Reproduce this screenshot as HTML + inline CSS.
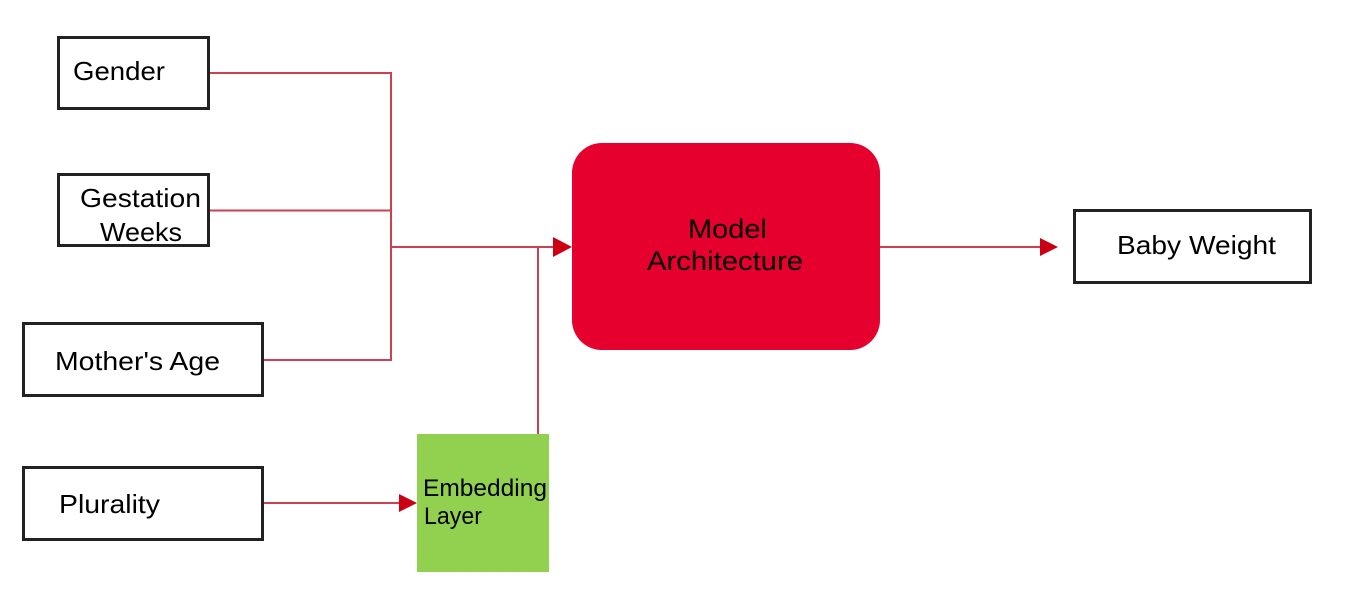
<!DOCTYPE html>
<html>
<head>
<meta charset="utf-8">
<style>
  html, body { margin: 0; padding: 0; background: #ffffff; }
  body { width: 1345px; height: 608px; overflow: hidden; }
  svg { display: block; }
  text { font-family: "Liberation Sans", "DejaVu Sans", sans-serif; fill: #000; }
</style>
</head>
<body>
<svg width="1345" height="608" viewBox="0 0 1345 608" xmlns="http://www.w3.org/2000/svg">
  <rect x="0" y="0" width="1345" height="608" fill="#ffffff"/>

  <!-- connector lines -->
  <g stroke="#c8424f" stroke-width="2" fill="none">
    <polyline points="209,73 391,73 391,360 263,360"/>
    <line x1="209" y1="210.5" x2="391" y2="210.5"/>
    <line x1="391" y1="247" x2="556" y2="247"/>
    <line x1="538" y1="247" x2="538" y2="434"/>
    <line x1="263" y1="503" x2="402" y2="503"/>
    <line x1="880" y1="247" x2="1042" y2="247"/>
  </g>

  <!-- arrowheads -->
  <g fill="#cc0015">
    <polygon points="553,237 572,247 553,257"/>
    <polygon points="399,494 417,503 399,512"/>
    <polygon points="1040,238 1058,247 1040,256"/>
  </g>

  <!-- input boxes -->
  <g fill="#ffffff" stroke="#222222" stroke-width="3">
    <rect x="58.5" y="37.5" width="150" height="71"/>
    <rect x="58.5" y="174.5" width="150" height="71"/>
    <rect x="23.5" y="323.5" width="239" height="72"/>
    <rect x="23.5" y="467.5" width="239" height="72"/>
    <rect x="1074.5" y="210.5" width="236" height="72"/>
  </g>

  <!-- embedding layer -->
  <rect x="417" y="434" width="132" height="138" fill="#92d050"/>

  <!-- model architecture -->
  <rect x="572" y="143" width="308" height="207" rx="30" ry="30" fill="#e5002e"/>

  <!-- labels -->
  <text x="73" y="80" font-size="26" textLength="92" lengthAdjust="spacingAndGlyphs">Gender</text>
  <text x="80" y="207" font-size="26" textLength="121" lengthAdjust="spacingAndGlyphs">Gestation</text>
  <text x="100" y="241" font-size="26" textLength="82" lengthAdjust="spacingAndGlyphs">Weeks</text>
  <text x="55" y="370" font-size="26" textLength="165" lengthAdjust="spacingAndGlyphs">Mother's Age</text>
  <text x="59" y="513" font-size="26" textLength="101" lengthAdjust="spacingAndGlyphs">Plurality</text>
  <text x="423" y="496" font-size="24" textLength="124" lengthAdjust="spacingAndGlyphs">Embedding</text>
  <text x="424" y="524" font-size="24" textLength="58" lengthAdjust="spacingAndGlyphs">Layer</text>
  <text x="688" y="238" font-size="27" textLength="79" lengthAdjust="spacingAndGlyphs">Model</text>
  <text x="647" y="270" font-size="27" textLength="156" lengthAdjust="spacingAndGlyphs">Architecture</text>
  <text x="1117" y="254" font-size="26" textLength="159" lengthAdjust="spacingAndGlyphs">Baby Weight</text>
</svg>
</body>
</html>
